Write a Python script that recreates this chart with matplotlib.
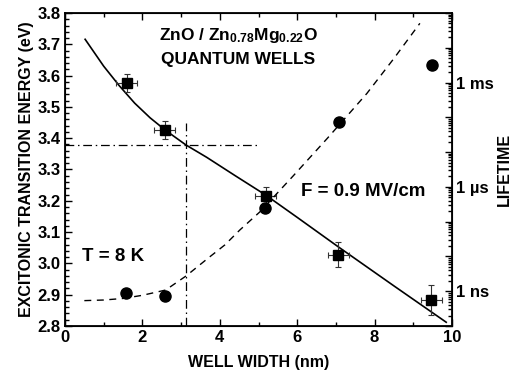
import math
import matplotlib
matplotlib.use("Agg")
import matplotlib.pyplot as plt
from matplotlib.ticker import MultipleLocator, NullFormatter, LogLocator, FuncFormatter

plt.rcParams['font.family'] = ['Liberation Sans', 'DejaVu Sans']
plt.rcParams['font.weight'] = 'bold'
plt.rcParams['mathtext.fontset'] = 'custom'
plt.rcParams['mathtext.rm'] = 'Liberation Sans:bold'
plt.rcParams['mathtext.bf'] = 'Liberation Sans:bold'
plt.rcParams['mathtext.default'] = 'bf'

# Measured excitonic transition energies (eV) vs well width (nm)
width_E = [1.59, 2.58, 5.19, 7.06, 9.46]
energy = [3.577, 3.426, 3.215, 3.028, 2.883]
energy_err = [0.029, 0.029, 0.029, 0.039, 0.048]
width_err = [0.27, 0.27, 0.27, 0.27, 0.27]

# Measured exciton lifetimes (s) vs well width (nm)
width_tau = [1.58, 2.59, 5.17, 7.08, 9.48]
lifetime = [8.6e-10, 7.2e-10, 2.4e-7, 7.5e-5, 3.3e-3]

# Calculated transition energy (solid curve)
calc_w_E = [0.52, 1.0, 1.4, 1.8, 2.2, 2.6, 3.13, 3.66, 4.4, 5.19, 6.0, 7.06, 8.5, 9.85]
calc_E = [3.716, 3.630, 3.568, 3.512, 3.465, 3.425, 3.378, 3.339, 3.280, 3.218,
          3.147, 3.053, 2.928, 2.812]

# Calculated lifetime (dashed curve)
calc_w_tau = [0.5, 1.0, 1.5, 2.0, 2.6, 3.13, 3.7, 4.13, 4.52, 5.04, 5.9, 6.78, 7.8, 8.5, 9.17]
calc_tau = [5.36e-10, 5.58e-10, 6.19e-10, 7.62e-10, 1.08e-9, 2.75e-9, 8.97e-9, 2.14e-8,
            5.79e-8, 1.93e-7, 2.09e-6, 2.5e-5, 4.86e-4, 4.95e-3, 5.05e-2]

# Guide lines marking the crossover width
cross_w = 3.13
cross_E = 3.378

right_ticks = [1e-9, 1e-6, 1e-3]
right_labels = ['1 ns', '1 µs', '1 ms']

fig = plt.figure(figsize=(5.15, 3.81), dpi=100)
ax = fig.add_axes([0.1262, 0.1444, 0.7515, 0.8215])

ax.plot(calc_w_E, calc_E, color='black', lw=1.2, zorder=2)
ax.errorbar(width_E, energy, yerr=energy_err, xerr=width_err, fmt='s', color='black',
            ms=7.5, ecolor='#333333', elinewidth=0.8, capsize=2.5, capthick=0.8, zorder=3)

ax.plot([0, 5.0], [cross_E, cross_E], color='black', lw=0.9,
        dashes=(7, 3, 1.2, 3))
ax.plot([cross_w, cross_w], [2.8, 3.45], color='black', lw=0.9,
        dashes=(7, 3, 1.2, 3))

ax.set_xlim(0, 10)
ax.set_ylim(2.8, 3.8)
ax.xaxis.set_major_locator(MultipleLocator(2))
ax.xaxis.set_minor_locator(MultipleLocator(1))
ax.yaxis.set_major_locator(MultipleLocator(0.1))
ax.yaxis.set_minor_locator(MultipleLocator(0.02))
ax.tick_params(axis='both', which='both', direction='in', top=True, width=1.0)
ax.tick_params(axis='both', which='major', length=5, labelsize=12, pad=3)
ax.tick_params(axis='both', which='minor', length=3)
ax.tick_params(axis='y', right=False)
for s in ax.spines.values():
    s.set_linewidth(1.3)
ax.xaxis.set_major_formatter(FuncFormatter(lambda v, p: f'{int(round(v))}'))
ax.yaxis.set_major_formatter(FuncFormatter(lambda v, p: f'{v:.1f}'))

ax.set_xlabel('WELL WIDTH (nm)', fontsize=11.5, fontweight='bold', labelpad=7)
ax.set_ylabel('EXCITONIC TRANSITION ENERGY (eV)', fontsize=11.5, fontweight='bold', labelpad=3)

ax2 = ax.twinx()
ax2.set_yscale('log')
ax2.set_ylim(1e-10, 1e-1)
ax2.plot(calc_w_tau, calc_tau, color='black', lw=1.0, dashes=(5, 4), zorder=2)
ax2.plot(width_tau, lifetime, 'o', color='black', ms=8, zorder=3)
ax2.yaxis.set_major_locator(LogLocator(base=10, numticks=20))
ax2.yaxis.set_minor_locator(LogLocator(base=10, subs=range(2, 10), numticks=20))
ax2.yaxis.set_minor_formatter(NullFormatter())
label_map = {round(math.log10(t)): lab for t, lab in zip(right_ticks, right_labels)}
ax2.yaxis.set_major_formatter(FuncFormatter(
    lambda v, p: label_map.get(round(math.log10(v)), '') if v > 0 else ''))
ax2.tick_params(axis='y', which='both', direction='in', width=1.0, labelsize=12, pad=3)
ax2.tick_params(axis='y', which='major', length=5)
ax2.tick_params(axis='y', which='minor', length=3)
ax2.set_ylabel('LIFETIME', fontsize=11.5, fontweight='bold', labelpad=2)
ax2.set_xlim(0, 10)

ax.text(4.47, 3.727, 'ZnO / Zn$_{0.78}$Mg$_{0.22}$O', fontsize=12.5, fontweight='bold',
        ha='center', va='center')
ax.text(4.47, 3.65, 'QUANTUM WELLS', fontsize=12.5, fontweight='bold',
        ha='center', va='center')
ax.text(6.1, 3.229, 'F = 0.9 MV/cm', fontsize=13.5, fontweight='bold', ha='left', va='center')
ax.text(0.43, 3.021, 'T = 8 K', fontsize=13.5, fontweight='bold', ha='left', va='center')

fig.savefig('out.png', dpi=100)
